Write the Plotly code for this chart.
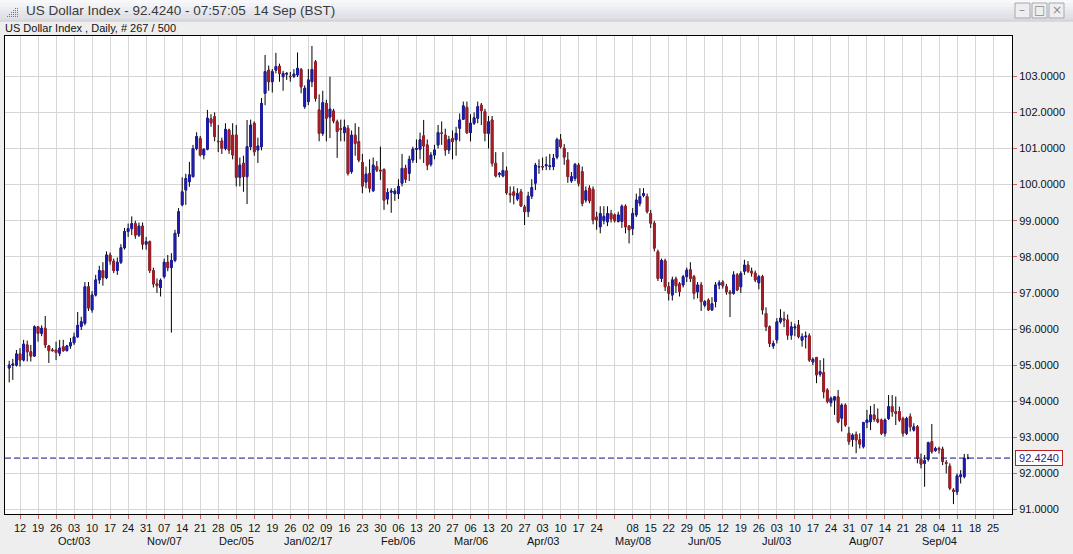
import plotly.graph_objects as go

# ---------------- data (US Dollar Index, daily, 2016-09-07 .. 2017-09-14) ----------------
open_ = [
 94.92,95.00,95.00,95.31,95.14,95.56,95.37,95.25,96.06,95.88,96.02,95.53,95.42,95.42,95.33,95.51,95.40,95.53,95.62,95.78,
 96.07,96.16,97.17,96.53,96.94,97.36,97.62,97.42,98.05,97.88,97.62,97.85,98.25,98.70,98.78,98.92,98.60,98.85,98.35,98.42,
 97.62,97.25,97.15,97.45,97.85,97.70,97.90,98.65,99.44,99.85,100.08,100.22,101.00,101.28,100.82,100.98,101.82,101.88,101.20,101.21,
 101.00,101.51,101.37,101.37,100.20,100.59,100.22,101.05,101.70,100.96,101.05,102.53,103.17,102.85,103.17,103.28,102.99,103.06,103.00,103.00,
 103.04,103.19,102.16,102.30,102.85,103.40,102.07,101.42,102.25,101.87,102.04,101.74,101.55,101.44,101.56,100.36,101.37,101.19,100.61,100.07,
 100.31,99.83,100.50,100.40,100.42,99.60,99.79,99.75,99.75,100.04,100.45,100.31,100.68,100.98,100.98,101.35,101.10,100.56,100.82,101.10,
 101.43,101.37,100.96,101.28,101.24,101.56,101.81,102.14,101.44,101.70,101.84,102.20,102.02,101.42,101.79,100.59,100.28,100.24,100.38,99.75,
 99.80,99.60,99.80,99.38,99.25,99.68,100.04,100.49,100.50,100.52,100.50,100.50,100.76,101.24,101.01,100.68,100.10,100.17,100.54,100.36,
 99.57,99.90,99.87,99.10,98.83,99.00,98.97,99.20,99.16,98.98,98.98,99.40,98.85,98.78,99.16,99.48,99.70,99.67,99.20,98.93,
 98.14,97.40,97.89,97.17,96.94,97.39,97.25,97.22,97.45,97.64,97.45,97.03,97.22,96.66,96.80,96.53,96.76,97.22,97.30,97.17,
 97.02,96.99,97.50,97.17,97.60,97.77,97.60,97.55,97.28,97.45,96.43,96.06,95.53,95.70,96.20,96.28,96.25,95.83,96.03,96.11,
 95.69,95.78,95.81,95.09,95.21,94.75,94.79,94.31,93.96,94.03,94.12,93.53,93.89,93.11,92.94,93.08,92.93,92.74,93.41,93.43,
 93.62,93.50,93.48,93.11,93.52,93.85,93.71,93.71,93.52,93.11,93.57,93.20,93.29,92.39,92.28,92.39,92.88,92.63,92.69,92.67,
 92.30,92.20,91.54,91.49,91.91,91.91,92.42]
high = [
 95.12,95.17,95.42,95.47,95.70,95.68,95.56,96.10,96.08,96.10,96.36,95.56,95.47,95.65,95.70,95.70,95.56,95.75,95.90,96.47,
 96.34,97.30,97.30,97.05,97.50,97.75,97.85,98.15,98.12,97.95,97.98,98.35,98.80,98.92,99.12,99.00,98.95,98.95,98.55,98.45,
 97.70,97.40,97.40,97.95,98.05,98.10,98.75,99.35,100.20,100.30,100.63,101.10,101.45,101.35,101.00,102.07,101.95,102.00,101.65,101.30,
 101.70,101.55,101.70,101.65,100.75,100.80,101.79,101.80,101.75,101.30,102.40,103.59,103.30,103.20,103.65,103.35,103.15,103.12,103.12,103.20,
 103.66,103.23,102.75,103.20,103.84,103.45,102.50,102.60,102.35,102.99,102.10,101.80,101.80,101.80,101.65,101.50,101.70,101.60,100.85,100.50,
 100.70,100.75,100.65,101.05,100.45,99.90,99.90,99.90,100.15,100.85,100.55,100.80,101.05,101.25,101.44,101.79,101.25,100.90,101.10,101.65,
 101.75,101.55,101.35,101.50,101.60,101.97,102.30,102.30,101.95,102.00,102.30,102.26,102.10,101.90,101.90,100.90,100.35,100.90,100.50,99.95,
 99.95,99.90,99.88,99.44,99.80,100.15,100.60,100.70,100.75,100.78,100.85,100.85,101.30,101.40,101.12,100.90,100.35,100.60,100.60,100.50,
 99.95,99.98,99.95,99.25,99.40,99.40,99.40,99.30,99.20,99.25,99.45,99.45,98.88,99.35,99.75,99.90,99.90,99.75,99.30,99.00,
 98.20,97.95,97.95,97.30,97.45,97.45,97.30,97.50,97.70,97.85,97.50,97.30,97.30,96.80,96.85,96.88,97.30,97.35,97.35,97.25,
 97.08,97.60,97.55,97.60,97.92,97.88,97.70,97.62,97.50,97.50,96.60,96.10,95.68,96.30,96.55,96.48,96.40,96.20,96.15,96.25,
 95.88,95.93,95.88,95.21,95.23,95.14,95.19,94.36,94.13,94.14,94.31,93.94,93.94,93.29,93.11,93.16,93.11,93.43,93.76,93.87,
 93.92,93.80,93.52,93.52,94.17,94.17,94.13,93.85,93.57,93.57,93.66,93.39,93.34,92.55,92.51,92.88,93.37,92.74,92.74,92.74,
 92.37,92.28,91.59,92.00,92.09,92.54,92.54]
low = [
 94.52,94.59,94.96,94.96,95.10,95.10,95.10,95.23,95.65,95.80,95.47,95.06,95.38,95.14,95.25,95.37,95.38,95.45,95.56,95.76,
 95.97,96.10,96.50,96.45,96.90,97.25,97.20,97.38,97.78,97.55,97.50,97.80,98.20,98.55,98.60,98.50,98.55,98.20,98.20,97.55,
 97.15,97.00,96.90,97.40,97.60,95.90,97.85,98.55,99.40,99.44,99.94,100.20,100.95,100.78,100.70,100.95,101.60,101.20,100.90,100.85,
 100.95,100.85,100.70,99.95,99.95,99.80,99.46,100.95,100.80,100.60,100.95,102.20,102.60,102.55,103.08,102.85,102.60,102.90,102.85,102.95,
 102.98,102.53,102.10,102.20,102.70,102.30,101.20,101.35,101.20,101.29,101.70,100.74,101.20,101.20,100.25,100.30,100.80,100.62,99.76,99.90,
 99.78,99.80,100.35,100.13,99.30,99.45,99.22,99.55,99.60,99.95,100.05,100.10,100.60,100.60,100.70,100.60,100.40,100.50,100.70,101.00,
 101.10,100.80,100.85,100.70,100.80,101.20,101.79,101.40,101.20,101.65,101.70,101.65,101.20,101.00,100.50,100.20,100.20,100.20,99.72,99.50,
 99.45,99.55,99.38,98.88,99.10,99.60,99.85,100.30,100.40,100.40,100.40,100.40,100.70,101.00,100.55,100.05,100.05,100.10,99.95,99.40,
 99.50,99.48,98.90,98.75,98.65,98.90,98.85,98.95,98.95,98.95,98.80,98.65,98.37,98.60,99.10,99.40,99.65,99.20,98.80,98.15,
 97.33,97.30,97.05,96.79,96.79,97.00,96.90,97.15,97.30,97.30,96.82,96.85,96.50,96.60,96.50,96.50,96.60,97.10,97.12,96.95,
 96.33,96.95,97.05,97.00,97.50,97.55,97.45,97.30,97.10,96.40,95.94,95.50,95.45,95.60,96.15,96.05,95.70,95.70,95.80,95.74,
 95.51,95.46,95.09,95.00,94.50,94.68,94.08,93.94,93.85,93.62,93.39,93.16,93.29,92.79,92.74,92.56,92.69,92.69,93.25,93.20,
 93.43,93.39,93.06,93.02,93.48,93.57,93.34,93.43,93.02,93.06,93.16,93.16,92.28,92.14,91.63,92.33,92.55,92.60,92.55,92.23,
 92.00,91.54,91.15,91.40,91.72,91.86,92.39]
close = [
 95.00,95.03,95.31,95.14,95.58,95.37,95.25,96.06,95.88,96.02,95.56,95.40,95.40,95.35,95.47,95.40,95.53,95.62,95.78,96.10,
 96.20,97.17,96.58,96.94,97.36,97.62,97.42,98.05,97.88,97.62,97.85,98.25,98.70,98.78,98.92,98.60,98.85,98.35,98.42,97.62,
 97.25,97.20,97.35,97.85,97.70,97.90,98.65,99.25,99.80,100.17,100.27,101.00,101.33,100.82,100.98,101.84,101.71,101.33,101.19,101.00,
 101.53,100.96,100.82,100.20,100.54,100.22,101.05,101.65,100.91,101.07,102.25,103.13,102.85,103.13,103.27,103.08,103.08,103.08,102.99,103.06,
 103.22,102.71,102.67,102.90,103.19,102.39,101.42,102.27,101.84,102.09,101.76,101.47,101.53,101.59,100.31,101.37,101.14,100.68,99.96,100.29,
 99.90,100.54,100.40,100.38,99.57,99.78,99.82,99.82,99.95,100.45,100.15,100.70,100.98,101.00,101.24,101.07,100.54,100.82,100.96,101.44,
 101.42,100.96,101.25,101.19,101.42,101.79,102.18,101.44,101.70,101.85,102.16,102.05,101.42,101.74,100.59,100.24,100.31,100.39,99.77,99.72,
 99.70,99.75,99.41,99.25,99.68,99.92,100.54,100.50,100.49,100.55,100.52,100.73,101.25,101.05,100.76,100.22,100.22,100.56,100.04,99.48,
 99.83,99.55,99.02,99.02,99.20,99.12,99.20,99.05,99.00,99.16,99.40,98.83,98.75,99.20,99.57,99.67,99.75,99.25,98.93,98.24,
 97.40,97.90,97.17,96.99,97.36,97.20,97.04,97.45,97.63,97.40,96.99,97.22,96.76,96.76,96.53,96.70,97.22,97.28,97.20,97.03,
 96.98,97.50,97.08,97.54,97.77,97.60,97.55,97.36,97.45,96.53,96.06,95.60,95.60,96.20,96.30,96.25,95.83,96.06,96.06,95.79,
 95.79,95.80,95.14,95.16,94.73,94.82,94.26,93.99,94.08,94.12,93.43,93.89,93.34,92.88,93.06,92.93,92.81,93.41,93.48,93.62,
 93.50,93.43,93.11,93.48,93.85,93.71,93.66,93.48,93.11,93.52,93.29,93.29,92.42,92.26,92.35,92.85,92.60,92.69,92.66,92.33,
 92.28,91.59,91.50,91.93,91.96,92.42,92.424]

# weekly (Monday) tick labels, 2016-09-12 .. 2017-09-25 ("" = no label)
week_labels = ["12","19","26","03","10","17","24","31","07","14","21","28","05","12","19","26",
               "02","09","16","23","30","06","13","20","27","06","13","20","27","03","10","17","24",
               "","08","15","22","29","05","12","19","26","03","10","17","24","31","07","14","21","28",
               "04","11","18","25"]
# month labels: (week number, text)
month_labels = [(3,"Oct/03"),(8,"Nov/07"),(12,"Dec/05"),(16,"Jan/02/17"),(21,"Feb/06"),(25,"Mar/06"),
                (29,"Apr/03"),(34,"May/08"),(38,"Jun/05"),(42,"Jul/03"),(47,"Aug/07"),(51,"Sep/04")]
y_ticks = [91,92,93,94,95,96,97,98,99,100,101,102,103]
last_price = 92.4240

# ---------------- figure ----------------
W, H = 1073, 554
L, R, T, B = 5, 61, 36, 40
PW, PH = W - L - R, H - T - B
def px(xp):  # pixel -> paper x
    return (xp - L) / PW
def py(yp):  # pixel -> paper y
    return (H - B - yp) / PH

idx = list(range(len(close)))
body_hi = [max(o, c) for o, c in zip(open_, close)]
body_lo = [min(o, c) for o, c in zip(open_, close)]

BLUE = "#1C1CAE"
RED = "#A81C26"

fig = go.Figure()
# wicks (black), full OHLC
fig.add_trace(go.Candlestick(
    x=idx, open=open_, high=high, low=low, close=close,
    increasing=dict(line=dict(color="#000000", width=1), fillcolor="rgba(0,0,0,0)"),
    decreasing=dict(line=dict(color="#000000", width=1), fillcolor="rgba(0,0,0,0)"),
    whiskerwidth=0, hoverinfo="skip", showlegend=False))
# coloured bodies
fig.add_trace(go.Candlestick(
    x=idx, open=open_, high=body_hi, low=body_lo, close=close,
    increasing=dict(line=dict(color=BLUE, width=1), fillcolor=BLUE),
    decreasing=dict(line=dict(color=RED, width=1), fillcolor=RED),
    whiskerwidth=0, hoverinfo="skip", showlegend=False))

tick_pos = [3 + 5 * k for k in range(len(week_labels))]

shapes = []
annotations = []

# current price dashed line
shapes.append(dict(type="line", xref="paper", yref="y", x0=0, x1=1, y0=last_price, y1=last_price,
                   line=dict(color="#101080", width=1, dash="6px,3px"), layer="above"))

# title bar (gradient approximated with bands)
bands = ["#F8F8FA", "#F2F3F6", "#ECEDF1", "#E6E7EC", "#E0E2E8", "#DBDDE3"]
bh = 21 / len(bands)
for k, col in enumerate(bands):
    shapes.append(dict(type="rect", xref="paper", yref="paper", x0=px(0), x1=px(W),
                       y0=py((k + 1) * bh), y1=py(k * bh), fillcolor=col, line=dict(width=0), layer="below"))
shapes.append(dict(type="line", xref="paper", yref="paper", x0=px(0), x1=px(W), y0=py(21), y1=py(21),
                   line=dict(color="#C8CAD0", width=1)))
# window icon (dotted stair)
for (cx, cy) in [(7,16),(9,16),(11,16),(13,16),(15,16),(17,16),(9,14),(11,14),(13,14),(15,14),(17,14),
                 (11,12),(13,12),(15,12),(17,12),(13,10),(15,10),(17,10),(15,8),(17,8)]:
    shapes.append(dict(type="rect", xref="paper", yref="paper", x0=px(cx), x1=px(cx + 1),
                       y0=py(cy + 1), y1=py(cy), fillcolor="#707880", line=dict(width=0)))
# window buttons
for bx, glyph in [(1015, "–"), (1032, "□"), (1049, "×")]:
    shapes.append(dict(type="rect", xref="paper", yref="paper", x0=px(bx), x1=px(bx + 15),
                       y0=py(18), y1=py(3), fillcolor="#EEEEF0", line=dict(color="#A6A8AE", width=1)))
    annotations.append(dict(text=glyph, xref="paper", yref="paper", x=px(bx + 7.5), y=py(10.5),
                            xanchor="center", yanchor="middle", showarrow=False,
                            font=dict(family="DejaVu Sans", size=12, color="#8A8C92")))

annotations.append(dict(text="US Dollar Index - 92.4240 - 07:57:05  14 Sep (BST)", xref="paper", yref="paper",
                        x=px(24), y=py(11), xanchor="left", yanchor="middle", showarrow=False,
                        font=dict(family="Liberation Sans", size=13.5, color="#3A3A3A")))
annotations.append(dict(text="US Dollar Index , Daily, # 267 / 500", xref="paper", yref="paper",
                        x=px(3), y=py(28), xanchor="left", yanchor="middle", showarrow=False,
                        font=dict(family="Liberation Sans", size=11, color="#111111")))
# month labels
for k, txt in month_labels:
    annotations.append(dict(text=txt, xref="x", yref="paper", x=tick_pos[k], y=0, yshift=-27,
                            xanchor="center", yanchor="middle", showarrow=False,
                            font=dict(family="Liberation Sans", size=11, color="#111111")))
# current price box
annotations.append(dict(text="92.4240", xref="paper", yref="y", x=1, y=last_price, xshift=3,
                        xanchor="left", yanchor="middle", showarrow=False,
                        font=dict(family="Liberation Sans", size=11, color="#1C1C8A"),
                        bgcolor="#FFFFFF", bordercolor="#C02020", borderwidth=1, borderpad=1, width=44))

sx = 3.604
x0 = -(9.2 - L) / sx
x1 = x0 + PW / sx
ytop = 103 + (76.3 - T) / 36.1
ybot = ytop - PH / 36.1

fig.update_layout(
    width=W, height=H, margin=dict(l=L, r=R, t=T, b=B),
    paper_bgcolor="#EEEEEE", plot_bgcolor="#FFFFFF",
    boxgap=0.32, hovermode=False, showlegend=False,
    shapes=shapes, annotations=annotations,
    xaxis=dict(range=[x0, x1], tickmode="array", tickvals=tick_pos, ticktext=week_labels,
               showgrid=True, gridcolor="#D6D6D6", gridwidth=1, zeroline=False,
               showline=True, linecolor="#000000", linewidth=1, mirror=True,
               ticks="outside", ticklen=4, tickcolor="#D06060",
               tickfont=dict(family="Liberation Sans", size=11, color="#111111"),
               rangeslider=dict(visible=False), fixedrange=True),
    yaxis=dict(range=[ybot, ytop], side="right", tickmode="array", tickvals=y_ticks,
               ticktext=[f"{v:.4f}" for v in y_ticks],
               showgrid=True, gridcolor="#D6D6D6", gridwidth=1, zeroline=False,
               showline=True, linecolor="#000000", linewidth=1, mirror=True,
               ticks="outside", ticklen=4, tickcolor="#D06060",
               tickfont=dict(family="Liberation Sans", size=11, color="#111111"), fixedrange=True),
)

fig.write_html("out.html", config={"displayModeBar": False})
# remove the default page margin so the figure sits at the window's top-left corner
with open("out.html", "r", encoding="utf-8") as f:
    html = f.read()
html = html.replace("<head>", "<head><style>html,body{margin:0;padding:0;overflow:hidden;background:#EEEEEE;}</style>", 1)
with open("out.html", "w", encoding="utf-8") as f:
    f.write(html)
